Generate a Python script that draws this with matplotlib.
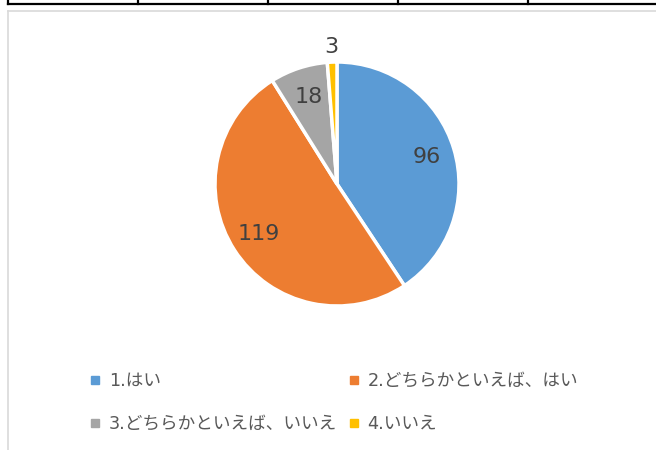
import matplotlib
matplotlib.use("Agg")
import numpy as np
import matplotlib.pyplot as plt
from matplotlib.lines import Line2D

plt.rcParams["font.family"] = ["DejaVu Sans", "Noto Sans CJK JP"]

labels = ["1.はい", "2.どちらかといえば、はい", "3.どちらかといえば、いいえ", "4.いいえ"]
values = [96, 119, 18, 3]
colors = ["#5B9BD5", "#ED7D31", "#A5A5A5", "#FFC000"]
# distance of each value label from the centre (fraction of radius)
label_r = [0.77, 0.76, 0.75, 1.12]

W, H = 656, 450
fig = plt.figure(figsize=(W / 100, H / 100), dpi=100)


def fx(px):
    return px / W


def fy(py):
    return 1 - py / H


# table row above the chart
fig.add_artist(Line2D([fx(8), fx(656)], [fy(3.5), fy(3.5)], color="black", lw=1.6))
for x in [8, 138, 268, 398, 528]:
    fig.add_artist(Line2D([fx(x), fx(x)], [fy(0), fy(3.5)], color="black", lw=1.6))

# chart area border
fig.add_artist(Line2D([fx(8), fx(656)], [fy(11), fy(11)], color="#D9D9D9", lw=1.2))
fig.add_artist(Line2D([fx(8), fx(8)], [fy(11), fy(450)], color="#D9D9D9", lw=1.2))

# pie
cx, cy, r = 337, 184, 122
ax = fig.add_axes([fx(cx - r), fy(cy + r), 2 * r / W, 2 * r / H])
wedges, _ = ax.pie(values, colors=colors, startangle=90, counterclock=False,
                   wedgeprops=dict(edgecolor="white", linewidth=2.5))
ax.set_xlim(-1, 1)
ax.set_ylim(-1, 1)
ax.set_aspect("equal")

for w, v, lr in zip(wedges, values, label_r):
    ang = np.deg2rad((w.theta1 + w.theta2) / 2)
    ax.text(lr * np.cos(ang), lr * np.sin(ang), str(v), ha="center", va="center",
            fontsize=16, color="#404040")

# legend, Excel order: 1,2 / 3,4 -> column-major list 1,3,2,4
order = [0, 2, 1, 3]
handles = [Line2D([], [], marker="s", linestyle="", markersize=6, color=colors[i]) for i in order]
fig.legend(handles, [labels[i] for i in order], ncol=2, loc="upper left",
           bbox_to_anchor=(fx(88), fy(372)), frameon=False, fontsize=12.7,
           handlelength=0.85, handletextpad=0.35, columnspacing=0.5,
           labelspacing=1.4, borderpad=0, borderaxespad=0, labelcolor="#595959")

fig.savefig("out.png", dpi=100)
